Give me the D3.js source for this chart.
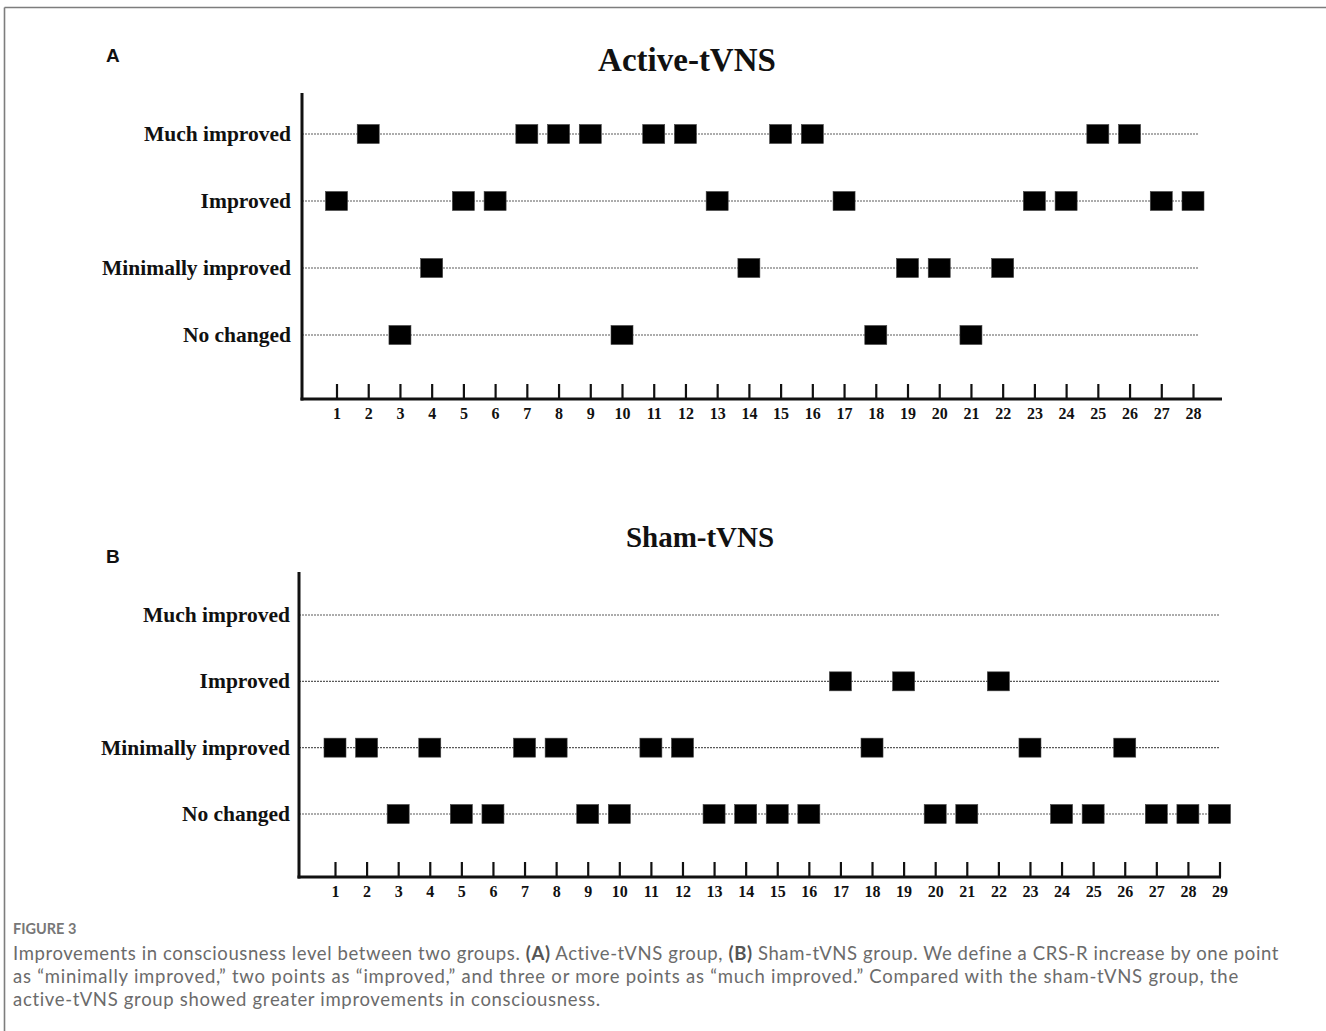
<!DOCTYPE html>
<html>
<head>
<meta charset="utf-8">
<script src="https://cdn.jsdelivr.net/npm/d3@7"></script>
<style>
  html, body { margin: 0; padding: 0; background: #fff; }
  svg { display: block; }
</style>
</head>
<body>
<svg id="fig" width="1326" height="1031"></svg>
<script>
// ---------- data ----------
const categories = ["Much improved", "Improved", "Minimally improved", "No changed"];

const activeTitle = "Active-tVNS";
const activeTicks = d3.range(1, 29);          // patients 1..28
const activeMuch = [2, 7, 8, 9, 11, 12, 15, 16, 25, 26];
const activeImproved = [1, 5, 6, 13, 17, 23, 24, 27, 28];
const activeMinimal = [4, 14, 19, 20, 22];
const activeNoChange = [3, 10, 18, 21];

const shamTitle = "Sham-tVNS";
const shamTicks = d3.range(1, 30);            // patients 1..29
const shamMuch = [];
const shamImproved = [17, 19, 22];
const shamMinimal = [1, 2, 4, 7, 8, 11, 12, 18, 23, 26];
const shamNoChange = [3, 5, 6, 9, 10, 13, 14, 15, 16, 20, 21, 24, 25, 27, 28, 29];

const captionHead = "FIGURE 3";

// ---------- drawing ----------
const svg = d3.select("#fig");
const serif = "'Liberation Serif', 'Times New Roman', serif";
const sans = "'Liberation Sans', Arial, sans-serif";

// figure frame (top & left border)
svg.append("line").attr("x1", 4.5).attr("x2", 1326).attr("y1", 7.5).attr("y2", 7.5)
  .attr("stroke", "#7d7d7d").attr("stroke-width", 1.6);
svg.append("line").attr("x1", 4.5).attr("x2", 4.5).attr("y1", 7.5).attr("y2", 1031)
  .attr("stroke", "#7d7d7d").attr("stroke-width", 1.6);

function panel(cfg) {
  const g = svg.append("g");
  const x = d3.scaleLinear().domain([cfg.ticks[0], cfg.ticks[cfg.ticks.length - 1]]).range(cfg.xRange);
  const y = d3.scalePoint().domain(categories).range(cfg.yRange);

  // panel letter
  g.append("text").attr("x", cfg.letterX).attr("y", cfg.letterY)
    .attr("font-family", sans).attr("font-weight", "bold").attr("font-size", 19)
    .attr("fill", "#111").text(cfg.letter);

  // title
  g.append("text").attr("x", cfg.titleX).attr("y", cfg.titleY).attr("text-anchor", "middle")
    .attr("font-family", serif).attr("font-weight", "bold").attr("font-size", cfg.titleSize)
    .attr("fill", "#111").text(cfg.title);

  // dotted guide lines
  g.selectAll("line.guide").data(categories).join("line")
    .attr("class", "guide")
    .attr("x1", cfg.axisX).attr("x2", cfg.guideEnd)
    .attr("y1", d => y(d)).attr("y2", d => y(d))
    .attr("stroke", "#5a5a5a").attr("stroke-width", 1.2)
    .attr("stroke-dasharray", "2,1");

  // category labels
  g.selectAll("text.cat").data(categories).join("text")
    .attr("class", "cat")
    .attr("x", cfg.labelRight).attr("y", d => y(d) + 7)
    .attr("text-anchor", "end")
    .attr("font-family", serif).attr("font-weight", "bold").attr("font-size", 21.5)
    .attr("fill", "#111").text(d => d);

  // x axis ticks & labels
  const axis = d3.axisBottom(x).tickValues(cfg.ticks).tickFormat(d3.format("d"))
    .tickSizeInner(-15).tickSizeOuter(0).tickPadding(9);
  const ag = g.append("g").attr("transform", `translate(0,${cfg.baseY})`).call(axis);
  ag.select(".domain").remove();
  ag.selectAll(".tick line").attr("stroke", "#111").attr("stroke-width", 2.2);
  ag.selectAll(".tick text").attr("font-family", serif).attr("font-weight", "bold")
    .attr("font-size", 16).attr("fill", "#111");

  // axes lines
  g.append("line").attr("x1", cfg.axisX).attr("x2", cfg.axisX)
    .attr("y1", cfg.axisTop).attr("y2", cfg.baseY + 1.5)
    .attr("stroke", "#111").attr("stroke-width", 3);
  g.append("line").attr("x1", cfg.axisX - 1.5).attr("x2", cfg.axisEnd)
    .attr("y1", cfg.baseY).attr("y2", cfg.baseY)
    .attr("stroke", "#111").attr("stroke-width", 3);

  // squares
  const pts = [];
  cfg.series.forEach((arr, i) => arr.forEach(v => pts.push({ cat: categories[i], v })));
  const w = 22, h = 19;
  g.selectAll("rect.pt").data(pts).join("rect")
    .attr("class", "pt")
    .attr("x", d => x(d.v) - w / 2).attr("y", d => y(d.cat) - h / 2)
    .attr("width", w).attr("height", h)
    .attr("fill", "#000").attr("stroke", "#444").attr("stroke-width", 0.6);
}

panel({
  letter: "A", letterX: 106, letterY: 62,
  title: activeTitle, titleX: 687, titleY: 71, titleSize: 33,
  ticks: activeTicks, xRange: [336.5, 1193],
  yRange: [134, 335],
  axisX: 302, axisTop: 93, baseY: 399, axisEnd: 1222, guideEnd: 1198,
  labelRight: 291,
  series: [activeMuch, activeImproved, activeMinimal, activeNoChange]
});

panel({
  letter: "B", letterX: 106, letterY: 563,
  title: shamTitle, titleX: 700, titleY: 547, titleSize: 29,
  ticks: shamTicks, xRange: [335, 1219.5],
  yRange: [615, 814],
  axisX: 299, axisTop: 572, baseY: 877, axisEnd: 1221, guideEnd: 1219,
  labelRight: 290,
  series: [shamMuch, shamImproved, shamMinimal, shamNoChange]
});

// ---------- caption ----------
const capFont = "Lato, 'Open Sans', sans-serif";
const capColor = "#6b6b6b";
svg.append("text").attr("x", 13).attr("y", 934)
  .attr("font-family", capFont).attr("font-size", 14.5).attr("font-weight", 700)
  .attr("fill", "#777").text(captionHead);

const captionLines = [
  [["Improvements in consciousness level between two groups. ", false], ["(A)", true], [" Active-tVNS group, ", false], ["(B)", true], [" Sham-tVNS group. We define a CRS-R increase by one point", false]],
  [["as \u201cminimally improved,\u201d two points as \u201cimproved,\u201d and three or more points as \u201cmuch improved.\u201d Compared with the sham-tVNS group, the", false]],
  [["active-tVNS group showed greater improvements in consciousness.", false]]
];
const capY = [960, 983, 1006];
const capWidth = [1266, 1226, 588];
captionLines.forEach((parts, i) => {
  const t = svg.append("text").attr("x", 13).attr("y", capY[i])
    .attr("font-family", capFont).attr("font-size", 18.5).attr("fill", capColor);
  parts.forEach(([s, b]) => {
    t.append("tspan").attr("font-weight", b ? 700 : 400).attr("fill", b ? "#555" : capColor).text(s);
  });
  const natural = t.node().getComputedTextLength();
  const n = parts.map(p => p[0]).join("").length;
  t.attr("letter-spacing", ((capWidth[i] - natural) / n).toFixed(3));
});
</script>
</body>
</html>
